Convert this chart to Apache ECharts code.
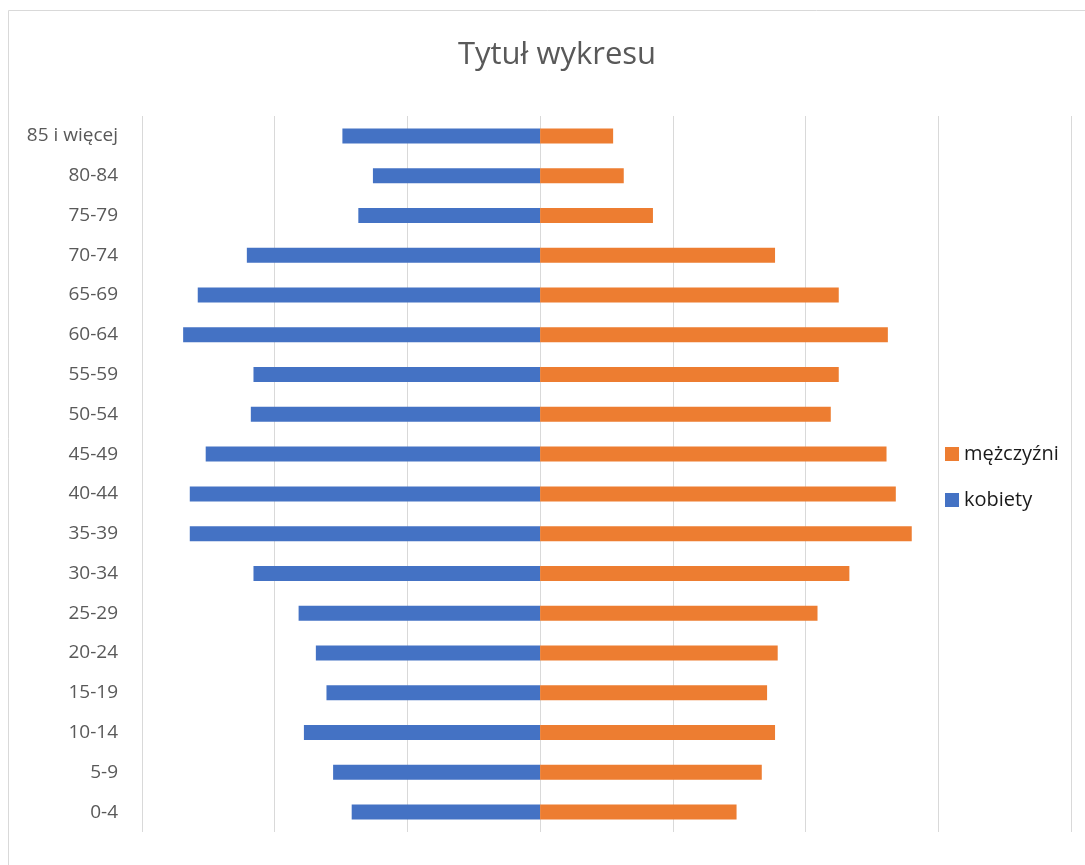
<!DOCTYPE html>
<html>
<head>
<meta charset="utf-8">
<script src="https://cdn.jsdelivr.net/npm/echarts@6/dist/echarts.min.js"></script>
<style>
  html, body { margin: 0; padding: 0; background: #fff; }
  #chart { width: 1085px; height: 865px; }
</style>
</head>
<body>
<div id="chart"></div>
<script>
// age groups, bottom to top
const ageGroups = ['0-4', '5-9', '10-14', '15-19', '20-24', '25-29', '30-34', '35-39', '40-44',
  '45-49', '50-54', '55-59', '60-64', '65-69', '70-74', '75-79', '80-84', '85 i więcej'];
// women shown to the left (negative)
const kobiety = [-1420, -1560, -1780, -1610, -1690, -1820, -2160, -2640, -2640,
  -2520, -2180, -2160, -2690, -2580, -2210, -1370, -1260, -1490];
const mezczyzni = [1480, 1670, 1770, 1710, 1790, 2090, 2330, 2800, 2680,
  2610, 2190, 2250, 2620, 2250, 1770, 850, 630, 550];

const chart = echarts.init(document.getElementById('chart'));

const font = '"Open Sans", "Noto Sans", sans-serif';

chart.setOption({
  animation: false,
  title: {
    text: 'Tytuł wykresu',
    left: 552,
    textAlign: 'center',
    top: 35,
    textStyle: { fontFamily: font, fontSize: 31, fontWeight: 'normal', color: '#595959' }
  },
  legend: {
    orient: 'vertical',
    left: 940,
    top: 439,
    itemGap: 26,
    itemWidth: 14,
    itemHeight: 14,
    icon: 'rect',
    data: ['mężczyźni', 'kobiety'],
    textStyle: { fontFamily: font, fontSize: 20, color: '#1a1a1a' }
  },
  grid: { left: 142, right: 14, top: 116, bottom: 33, containLabel: false },
  xAxis: {
    type: 'value',
    min: -3000,
    max: 4000,
    interval: 1000,
    axisLabel: { show: false },
    axisLine: { show: false },
    axisTick: { show: false },
    splitLine: { lineStyle: { color: '#d9d9d9', width: 1 } }
  },
  yAxis: {
    type: 'category',
    data: ageGroups,
    axisLine: { show: false, onZero: false },
    axisTick: { show: false },
    axisLabel: { fontFamily: font, fontSize: 19, color: '#595959', margin: 24 }
  },
  series: [
    {
      name: 'kobiety',
      type: 'bar',
      stack: 'all',
      barWidth: 15,
      itemStyle: { color: '#4472c4' },
      data: kobiety
    },
    {
      name: 'mężczyźni',
      type: 'bar',
      stack: 'all',
      barWidth: 15,
      itemStyle: { color: '#ed7d31' },
      data: mezczyzni
    }
  ],
  graphic: [{
    type: 'rect',
    shape: { x: 8.5, y: 10.5, width: 1200, height: 1000 },
    style: { fill: 'none', stroke: '#d9d9d9', lineWidth: 1 },
    silent: true
  }]
});
</script>
</body>
</html>
